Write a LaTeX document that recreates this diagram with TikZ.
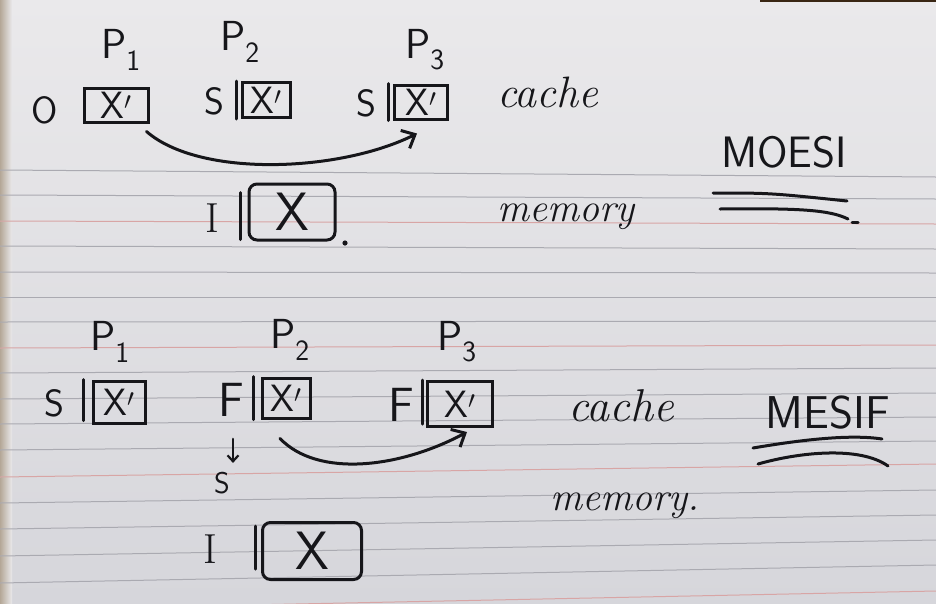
\documentclass[tikz,border=0pt]{standalone}
\usetikzlibrary{arrows.meta}
\definecolor{ink}{RGB}{22,22,26}
\definecolor{papertop}{RGB}{234,233,235}
\definecolor{paperbot}{RGB}{214,214,219}
\definecolor{rulegray}{RGB}{170,170,177}
\definecolor{rulered}{RGB}{216,165,165}
\definecolor{edge}{RGB}{180,167,151}
\tikzset{
  lab/.style={font=\sffamily\fontsize{42}{46}\selectfont, text=ink, inner sep=0pt},
  st/.style={font=\sffamily\fontsize{38}{42}\selectfont, text=ink, inner sep=0pt},
  stI/.style={font=\rmfamily\fontsize{42}{46}\selectfont, text=ink, inner sep=0pt},
  cell/.style={draw=ink, line width=3pt, font=\sffamily\fontsize{38}{42}\selectfont, text=ink, inner sep=0pt},
  memcell/.style={cell, rounded corners=8pt, font=\sffamily\fontsize{54}{58}\selectfont},
  word/.style={font=\itshape\fontsize{42}{46}\selectfont, text=ink, inner sep=0pt, anchor=base west},
  title/.style={font=\sffamily\fontsize{44}{48}\selectfont, text=ink, inner sep=0pt},
  hand/.style={draw=ink, line width=3pt, line cap=round},
  bar/.style={hand},
  arr/.style={hand, -{Straight Barb[length=11pt,width=20pt]}},
  sarr/.style={hand, line width=2.2pt, -{Straight Barb[length=6pt,width=11pt]}},
  paperline/.style={draw=rulegray, line width=1pt},
  redline/.style={draw=rulered, line width=1pt}
}
\begin{document}
\begin{tikzpicture}[x=1pt,y=-1pt]
% paper
\useasboundingbox (0,0) rectangle (936,603);
\shade[top color=papertop, bottom color=paperbot] (0,0) rectangle (936,603);
\shade[left color=edge, right color=papertop] (0,0) rectangle (12,603);
\fill[black!70!brown] (760,0) rectangle (936,2);
\foreach \l/\r in {170/177,195/199,246/249,272/273,297/297,322/321,373/368,399/393,424/417,450/441,503/490,529/515,556/540,583/565}
  \draw[paperline] (0,\l) -- (936,\r);
\foreach \l/\r in {221/224,348/345,477/464,610/591}
  \draw[redline] (0,\l) -- (936,\r);

% ---------- MOESI ----------
\node[lab] (tp1) at (121,50) {P\textsubscript{1}};
\node[lab] (tp2) at (240,42) {P\textsubscript{2}};
\node[lab] (tp3) at (425,50) {P\textsubscript{3}};

\node[st] (to1) at (45,110) {O};
\node[cell, minimum width=64pt, minimum height=34pt] (tb1) at (116,105) {X$'$};
\node[st] (ts2) at (214,101) {S};
\node[cell, minimum width=48pt, minimum height=35pt] (tb2) at (266,100) {X$'$};
\draw[bar] ([xshift=-4pt]tb2.north west) -- ([xshift=-4pt]tb2.south west);
\node[st] (ts3) at (366,103) {S};
\node[cell, minimum width=53pt, minimum height=34pt] (tb3) at (421,102) {X$'$};
\draw[bar] ([xshift=-5pt]tb3.north west) -- ([xshift=-5pt]tb3.south west);
\node[word, font=\itshape\fontsize{44}{48}\selectfont] (tcache) at (497,107) {cache};

\coordinate (ta1) at ([xshift=-3pt,yshift=-8pt]tb1.south east);
\coordinate (ta2) at ([xshift=-4pt,yshift=-13pt]tb3.south);
\draw[arr] (ta1) .. controls (200,178) and (340,172) .. (ta2);

\node[stI] (tI) at (212,218) {I};
\node[memcell, minimum width=86pt, minimum height=56pt] (tbm) at (292,212) {X};
\draw[bar] ([xshift=-7pt,yshift=-10pt]tbm.north west) -- ([xshift=-7pt,yshift=2pt]tbm.south west);
\fill[ink] (345,243) circle (2.6pt);
\node[word, font=\itshape\fontsize{40}{44}\selectfont] (tmem) at (497,221) {memory};

\node[title] (moesi) at (784,152) {MOESI};
\draw[hand] (713,193) .. controls (770,193) .. (847,201);
\draw[hand] (720,209) .. controls (800,208) and (830,210) .. (848,219);
\draw[hand] (852,222) -- (858,222);

% ---------- MESIF ----------
\node[lab] (bp1) at (110,342) {P\textsubscript{1}};
\node[lab] (bp2) at (290,340) {P\textsubscript{2}};
\node[lab] (bp3) at (457,342) {P\textsubscript{3}};

\node[st] (bs1) at (54,403) {S};
\node[cell, minimum width=52pt, minimum height=42pt] (bb1) at (119,402) {X$'$};
\draw[bar] ([xshift=-8pt]bb1.north west) -- ([xshift=-8pt,yshift=4pt]bb1.south west);
\node[st, font=\sffamily\fontsize{48}{52}\selectfont] (bf2) at (231,400) {F};
\node[cell, minimum width=48pt, minimum height=40pt] (bb2) at (286,398) {X$'$};
\draw[bar] ([xshift=-7pt]bb2.north west) -- ([xshift=-7pt]bb2.south west);
\node[st, font=\sffamily\fontsize{48}{52}\selectfont] (bf3) at (401,405) {F};
\node[cell, minimum width=65pt, minimum height=45pt] (bb3) at (460,404) {X$'$};
\draw[bar] ([xshift=-4pt]bb3.north west) -- ([xshift=-4pt,yshift=4pt]bb3.south west);

\node[st, font=\sffamily\fontsize{30}{34}\selectfont] (bs2) at (222,483) {S};
\draw[sarr, shorten <=22pt, shorten >=9pt] ([xshift=2pt]bf2.south) -- ([xshift=11pt]bs2.north);

\coordinate (ba1) at ([xshift=-6pt,yshift=-19pt]bb2.south);
\coordinate (ba2) at ([xshift=7pt,yshift=-4pt]bb3.south);
\draw[arr] (ba1) .. controls (318,478) and (400,468) .. (ba2);

\node[word, font=\itshape\fontsize{46}{50}\selectfont] (bcache) at (568,421) {cache};
\node[title, font=\sffamily\fontsize{46}{50}\selectfont] (mesif) at (828,413) {MESIF};
\draw[hand] (753,448) .. controls (800,440) and (850,434) .. (882,439);
\draw[hand] (758,464) .. controls (800,452) and (860,446) .. (888,466);
\node[word, font=\itshape\fontsize{40}{44}\selectfont] (bmem) at (550,510) {memory.};

\node[stI] (bI) at (210,549) {I};
\node[memcell, minimum width=99pt, minimum height=57pt] (bbm) at (312,551) {X};
\draw[bar] ([xshift=-6pt,yshift=-5pt]bbm.north west) -- ([xshift=-6pt,yshift=12pt]bbm.south west);
\end{tikzpicture}
\end{document}
